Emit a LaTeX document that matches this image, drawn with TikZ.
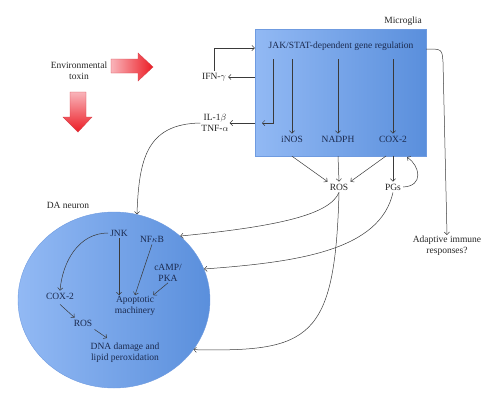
\documentclass[tikz,border=0pt]{standalone}
\usepackage{fontspec}
\setmainfont{Liberation Serif}
\usepackage{xcolor}
\usetikzlibrary{arrows.meta, positioning, shapes.geometric, calc}

\definecolor{celllight}{HTML}{92B9F4}
\definecolor{celldark}{HTML}{5A8FDC}
\definecolor{cellline}{HTML}{6F9BE0}
\definecolor{celltext}{HTML}{1B2A4E}
\definecolor{toxlight}{HTML}{F9B4BA}
\definecolor{toxdark}{HTML}{EC1C24}
\definecolor{toxline}{HTML}{D8404A}
\definecolor{wire}{HTML}{3A3A3A}

\tikzset{
  >={Straight Barb[length=2.6pt,width=5.2pt]},
  every node/.style={font=\fontsize{9.5}{11}\selectfont, text=black!85, inner sep=2pt},
  lbl/.style={align=center},
  inlbl/.style={align=center, text=celltext},
  conn/.style={->, draw=wire, line width=0.5pt},
  toxarrow/.style={draw=toxline, line width=0.4pt},
}

\begin{document}
\begin{tikzpicture}[x=1pt,y=-1pt]
\useasboundingbox (0,0) rectangle (500,405);

% Microglia box
\node (micro) [draw=cellline, left color=celllight, right color=celldark,
  minimum width=171pt, minimum height=127pt, inner sep=0pt] at (340.5,92.5) {};
\node (microlbl) [lbl, anchor=south east] at (424,28) {Microglia};
\node (jak) [inlbl] at (341,46) {JAK/STAT-dependent gene regulation};
\node (inos) [inlbl] at (292,139) {iNOS};
\node (nadph) [inlbl] at (338,139) {NADPH};
\node (cox) [inlbl] at (393,139) {COX-2};
\coordinate (jakbase) at (0,59);

% DA neuron
\node (neuron) [draw=cellline, ellipse, left color=celllight, right color=celldark,
  minimum width=192pt, minimum height=176pt, inner sep=0pt] at (114,300) {};
\node (neuronlbl) [lbl] at (68,205) {DA neuron};
\node (jnk) [inlbl] at (119,233) {JNK};
\node (nfkb) [inlbl] at (152,239) {NF$\kappa$B};
\node (camp) [inlbl, inner sep=1pt] at (168,273) {cAMP/\\PKA};
\node (apop) [inlbl, inner sep=1pt] at (135,306) {Apoptotic\\machinery};
\node (coxn) [inlbl] at (60,296) {COX-2};
\node (rosn) [inlbl] at (83,323) {ROS};
\node (dna) [inlbl, inner sep=1pt] at (125,353) {DNA damage and\\lipid peroxidation};

% outside labels
\node (toxin) [lbl, inner sep=0pt] at (79,71) {Environmental\\toxin};
\node (ifn) [lbl] at (214,77) {IFN-$\gamma$};
\node (il) [lbl, inner sep=1pt] at (215,123) {IL-1$\beta$\\TNF-$\alpha$};
\node (ros) [lbl] at (339,187) {ROS};
\node (pgs) [lbl] at (393,187) {PGs};
\node (adapt) [lbl, inner sep=1pt] at (447,246) {Adaptive immune\\responses?};

% toxin arrows
\draw[toxarrow, left color=toxlight, right color=toxdark]
  (111,59) -- (138,59) -- (138,53) -- (153,67) -- (138,81) -- (138,73) -- (111,73) -- cycle;
\draw[toxarrow, top color=toxlight, bottom color=toxdark]
  (70,92) -- (86,92) -- (86,117) -- (92,117) -- (78,132) -- (63,117) -- (70,117) -- cycle;

% microglia signalling
\draw[conn] (ifn.north) |- (micro.west |- 0,48);
\draw[conn] (micro.west |- ifn) -- (ifn.east);
\draw[conn] (micro.west |- il) -- (il.east);
\draw[conn] (273,59) |- (262,123);
\draw[conn] (jakbase -| inos) -- (inos.north);
\draw[conn] (jakbase -| nadph) -- (nadph.north);
\draw[conn] (jakbase -| cox) -- (cox.north);
\draw[conn] (micro.south -| inos) -- (ros.north west);
\draw[conn] (micro.south -| nadph) -- (ros.north);
\draw[conn] (386,156) -- (ros.north east);
\draw[conn] (micro.south -| cox) -- (pgs.north);
\draw[conn] (pgs.east) .. controls (424,186) and (420,166) .. (407,157);
\draw[conn] (micro.east |- 0,49) .. controls (442,49) .. (443,62) -- (adapt.north);

% into the neuron
\draw[conn] (il.west) .. controls (146,124) and (139,160) .. (neuron.75);
\draw[conn] (ros.south) .. controls (330,214) and (282,226) .. (neuron.44);
\draw[conn] (pgs.south) .. controls (380,250) and (300,262) .. (neuron.19);
\draw[conn] (ros.south) .. controls (335,340) and (310,352) .. (neuron.-32);

% inside the neuron
\draw[conn] (jnk.west) to[out=180,in=85] (coxn.north);
\draw[conn] (jnk.south) -- (jnk.south |- apop.north);
\draw[conn] (nfkb.south) -- (apop.north);
\draw[conn] (camp.south) -- ([xshift=-3pt]apop.north east);
\draw[conn] ([yshift=-3pt]coxn.south) -- ([xshift=3pt]rosn.north west);
\draw[conn] ([yshift=-1pt]rosn.south east) -- ($(dna.north)+(-18,-4)$);

\end{tikzpicture}
\end{document}
